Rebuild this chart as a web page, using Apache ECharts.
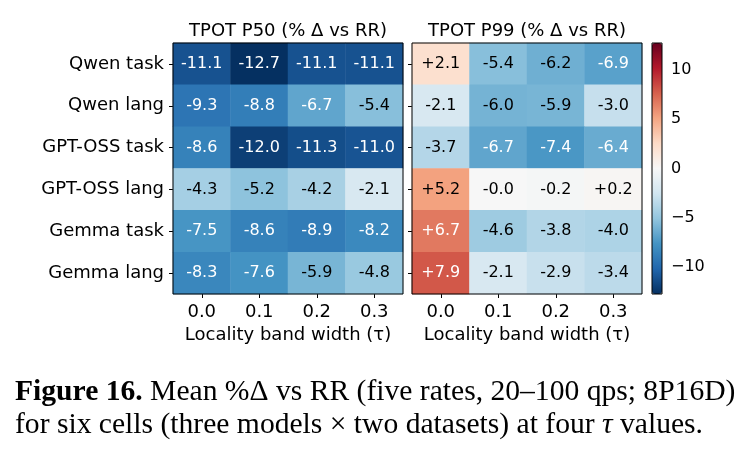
<!DOCTYPE html>
<html>
<head>
<meta charset="utf-8">
<script src="https://cdn.jsdelivr.net/npm/echarts@6/dist/echarts.min.js"></script>
<style>
  html, body { margin: 0; padding: 0; background: #fff; }
  #chart { width: 752px; height: 460px; }
</style>
</head>
<body>
<div id="chart"></div>
<script>
// ---- data ----
const taus = ["0.0", "0.1", "0.2", "0.3"];
const cells = ["Qwen task", "Qwen lang", "GPT-OSS task", "GPT-OSS lang", "Gemma task", "Gemma lang"];

// TPOT P50, % delta vs RR (rows = cells, cols = tau)
const p50 = [
  [-11.1, -12.7, -11.1, -11.1],
  [-9.3, -8.8, -6.7, -5.4],
  [-8.6, -12.0, -11.3, -11.0],
  [-4.3, -5.2, -4.2, -2.1],
  [-7.5, -8.6, -8.9, -8.2],
  [-8.3, -7.6, -5.9, -4.8]
];

// TPOT P99, % delta vs RR
const p99 = [
  [2.1, -5.4, -6.2, -6.9],
  [-2.1, -6.0, -5.9, -3.0],
  [-3.7, -6.7, -7.4, -6.4],
  [5.2, -0.0, -0.2, 0.2],
  [6.7, -4.6, -3.8, -4.0],
  [7.9, -2.1, -2.9, -3.4]
];

const cbarTicks = [-10, -5, 0, 5, 10];
const vmax = 12.7;

// matplotlib RdBu_r
const rdbu_r = ["#053061", "#2166ac", "#4393c3", "#92c5de", "#d1e5f0", "#f7f7f7",
                "#fddbc7", "#f4a582", "#d6604d", "#b2182b", "#67001f"];

const FONT = "DejaVu Sans";
const SERIF = "Liberation Serif";

function toCells(grid) {
  const out = [];
  grid.forEach((row, r) => row.forEach((v, c) => out.push([c, r, v])));
  return out;
}

// one decimal, optional leading + ; keeps "-0.0"
function fmt(v, signed) {
  const neg = v < 0 || Object.is(v, -0);
  const s = Math.abs(v).toFixed(1);
  if (neg) return "-" + s;
  return (signed ? "+" : "") + s;
}

const chart = echarts.init(document.getElementById("chart"), null, { renderer: "canvas" });

function catX(i) {
  return {
    type: "category", gridIndex: i, data: taus,
    axisLine: { show: false },
    axisTick: { show: true, alignWithLabel: true, length: 4, lineStyle: { color: "#000" } },
    axisLabel: { color: "#000", fontFamily: FONT, fontSize: 18, margin: 9 },
    name: "Locality band width (τ)", nameLocation: "middle", nameGap: 31,
    nameTextStyle: { color: "#000", fontFamily: FONT, fontSize: 18 },
    splitLine: { show: false }
  };
}

function catY(i, showLabels) {
  return {
    type: "category", gridIndex: i, data: cells, inverse: true,
    axisLine: { show: false },
    axisTick: { show: true, alignWithLabel: true, length: 4, lineStyle: { color: "#000" } },
    axisLabel: { show: showLabels, color: "#000", fontFamily: FONT, fontSize: 18, margin: 9 },
    splitLine: { show: false }
  };
}

function heat(i, data, signed) {
  return {
    type: "heatmap", xAxisIndex: i, yAxisIndex: i,
    // white text on the strong colours, black elsewhere (like matplotlib annotate)
    data: toCells(data).map(d => ({
      value: d,
      label: { color: Math.abs(d[2]) > vmax / 2 ? "#fff" : "#000" }
    })),
    label: {
      show: true, fontFamily: FONT, fontSize: 16,
      formatter: p => fmt(p.value[2], signed)
    },
    itemStyle: { borderWidth: 0 },
    emphasis: { disabled: true }
  };
}

const frame = { show: true, borderColor: "#000", borderWidth: 1, backgroundColor: "transparent", z: 5 };

const option = {
  animation: false,
  backgroundColor: "#fff",
  grid: [
    Object.assign({ left: 173, top: 43, width: 230, height: 251 }, frame),
    Object.assign({ left: 412, top: 43, width: 230, height: 251 }, frame),
    Object.assign({ left: 652, top: 43, width: 10, height: 251 }, frame)
  ],
  xAxis: [
    catX(0),
    catX(1),
    { type: "value", gridIndex: 2, show: false, min: 0, max: 1 }
  ],
  yAxis: [
    catY(0, true),
    catY(1, false),
    {
      // colorbar ticks
      type: "value", gridIndex: 2, position: "right", min: -vmax, max: vmax,
      axisLine: { show: false },
      splitLine: { show: false },
      axisTick: { show: true, length: 4, lineStyle: { color: "#000" }, customValues: cbarTicks },
      axisLabel: {
        color: "#000", fontFamily: FONT, fontSize: 16, margin: 9,
        customValues: cbarTicks,
        formatter: v => String(v).replace("-", "\u2212")
      }
    }
  ],
  visualMap: {
    type: "continuous",
    min: -vmax, max: vmax,
    seriesIndex: [0, 1],
    calculable: false,
    hoverLink: false,
    orient: "vertical",
    left: 652, top: 43,
    itemWidth: 10, itemHeight: 251,
    padding: 0,
    inRange: { color: rdbu_r }
  },
  graphic: [
    { type: "text", style: { text: "TPOT P50 (% Δ vs RR)", x: 288, y: 31, textAlign: "center", textVerticalAlign: "middle", font: "18px 'DejaVu Sans'", fill: "#000" } },
    { type: "text", style: { text: "TPOT P99 (% Δ vs RR)", x: 527, y: 31, textAlign: "center", textVerticalAlign: "middle", font: "18px 'DejaVu Sans'", fill: "#000" } },
    {
      type: "text",
      style: {
        x: 15, y: 392, textVerticalAlign: "middle",
        text: "{b|Figure 16.} Mean %Δ vs RR (five rates, 20–100 qps; 8P16D)",
        font: "29.6px '" + SERIF + "'", fill: "#000",
        rich: { b: { fontWeight: "bold", fontSize: 29.6, fontFamily: SERIF } }
      }
    },
    {
      type: "text",
      style: {
        x: 15, y: 425, textVerticalAlign: "middle",
        text: "for six cells (three models × two datasets) at four {i|τ} values.",
        font: "29.6px '" + SERIF + "'", fill: "#000",
        rich: { i: { fontStyle: "italic", fontSize: 29.6, fontFamily: SERIF } }
      }
    }
  ],
  series: [heat(0, p50, false), heat(1, p99, true)]
};

chart.setOption(option);
</script>
</body>
</html>
